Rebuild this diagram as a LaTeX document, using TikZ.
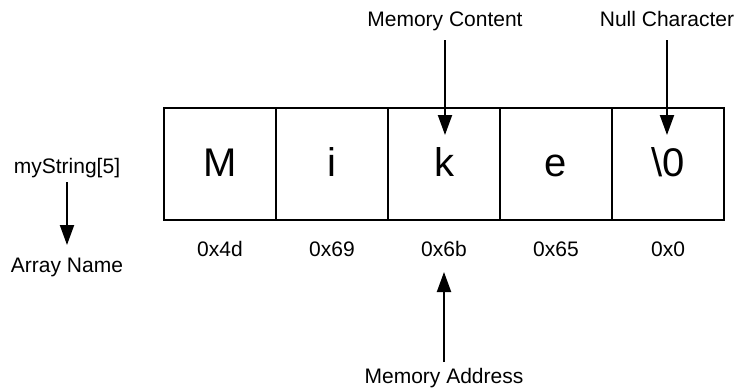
\documentclass[tikz,border=0pt]{standalone}
\usepackage{fontspec}
\setmainfont{Liberation Sans}
\usetikzlibrary{arrows.meta}
\begin{document}
\begin{tikzpicture}[x=1pt,y=-1pt,
  cell/.style={draw, line width=2pt, minimum width=112pt, minimum height=112pt,
    inner sep=0pt, text height=30pt, text depth=4.6pt, font=\fontsize{40}{48}\selectfont},
  lbl/.style={font=\fontsize{21}{25}\selectfont, inner sep=0pt, anchor=base},
  arr/.style={line width=2pt, -{Triangle[width=14pt,length=20pt]}}]
\useasboundingbox (0,0) rectangle (737,388);
\node[cell] (c1) at (220,164) {M};
\node[cell] (c2) at (332,164) {i};
\node[cell] (c3) at (444,164) {k};
\node[cell] (c4) at (556,164) {e};
\node[cell] (c5) at (668,164) {\textbackslash 0};
\node[lbl] (a1) at (220,256) {0x4d};
\node[lbl] (a2) at (332,256) {0x69};
\node[lbl] (a3) at (444,256) {0x6b};
\node[lbl] (a4) at (556,256) {0x65};
\node[lbl] (a5) at (668,256) {0x0};
\node[lbl] (mc) at (445,27) {Memory Content};
\node[lbl] (nc) at (667,27) {Null Character};
\node[lbl] (ms) at (67,173) {myString[5]};
\node[lbl] (an) at (67,272) {Array Name};
\node[lbl] (ma) at (444,383) {Memory Address};
\coordinate (mct) at (445,40);
\coordinate (mch) at (445,135);
\coordinate (nct) at (667,40);
\coordinate (nch) at (667,135);
\coordinate (mst) at (67,182);
\coordinate (msh) at (67,245);
\coordinate (mat) at (444,362);
\coordinate (mah) at (444,272);
\draw[arr] (mct) -- (mch);
\draw[arr] (nct) -- (nch);
\draw[arr] (mst) -- (msh);
\draw[arr] (mat) -- (mah);
\end{tikzpicture}
\end{document}
